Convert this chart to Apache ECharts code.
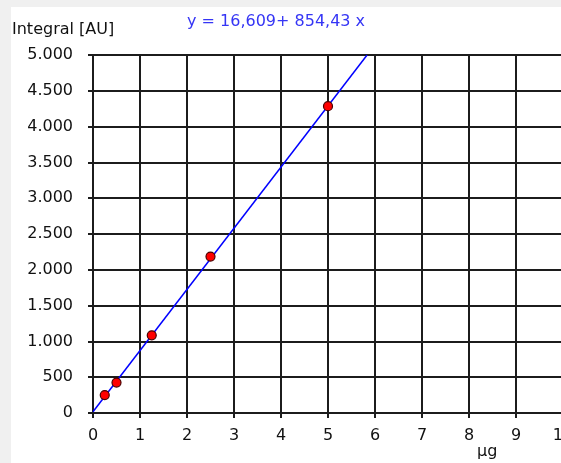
<!DOCTYPE html>
<html>
<head>
<meta charset="utf-8">
<script src="https://cdn.jsdelivr.net/npm/echarts@6/dist/echarts.min.js"></script>
<style>
  html, body { margin: 0; padding: 0; background: #f0f0f0; }
  #panel { position: absolute; left: 11px; top: 7px; width: 550px; height: 456px; background: #ffffff; }
  #chart { position: absolute; left: 0; top: 0; width: 561px; height: 463px; }
</style>
</head>
<body>
<div id="panel"></div>
<div id="chart"></div>
<script>
// Data
const massUg = [0.25, 0.5, 1.25, 2.5, 5];
const integralAU = [250, 425, 1085, 2185, 4285];
const fitLineX = [0, 5.832];
const fitLineY = [16.609, 5000];
const xTicks = [0, 1, 2, 3, 4, 5, 6, 7, 8, 9, 10];
const yTicks = [0, 500, 1000, 1500, 2000, 2500, 3000, 3500, 4000, 4500, 5000];
const equationText = 'y = 16,609+ 854,43 x';
const yTitle = 'Integral [AU]';
const xTitle = 'µg';

function fmtThousands(v) {
  const s = String(Math.round(v));
  return s.replace(/\B(?=(\d{3})+(?!\d))/g, '.');
}

const points = massUg.map((x, i) => [x, integralAU[i]]);
const fitLine = fitLineX.map((x, i) => [x, fitLineY[i]]);

const FONT = 'DejaVu Sans';
const LINE = { color: '#1c1c1c', width: 2 };
const chart = echarts.init(document.getElementById('chart'), null, { renderer: 'canvas' });
chart.setOption({
  backgroundColor: 'transparent',
  animation: false,
  grid: { left: 93, top: 55, width: 470, height: 358, containLabel: false, outerBoundsMode: 'none' },
  xAxis: {
    type: 'value', min: xTicks[0], max: xTicks[xTicks.length - 1], interval: 1,
    axisLine: { show: true, onZero: false, lineStyle: LINE },
    axisTick: { show: true, length: 5, lineStyle: LINE },
    axisLabel: { color: '#111', fontFamily: FONT, fontSize: 16, margin: 15, hideOverlap: false },
    splitLine: { show: true, lineStyle: LINE }
  },
  yAxis: {
    type: 'value', min: yTicks[0], max: yTicks[yTicks.length - 1], interval: 500,
    axisLine: { show: true, onZero: false, lineStyle: LINE },
    axisTick: { show: true, length: 5, lineStyle: LINE },
    axisLabel: { color: '#111', fontFamily: FONT, fontSize: 16, margin: 20, formatter: fmtThousands },
    splitLine: { show: true, lineStyle: LINE }
  },
  graphic: [
    { type: 'text', left: 12, top: 22, style: { text: yTitle, fill: '#111', font: '16px "DejaVu Sans"' } },
    { type: 'text', left: 187, top: 14, style: { text: equationText, fill: '#3535f5', font: '16px "DejaVu Sans"' } },
    { type: 'text', left: 477, top: 444, style: { text: xTitle, fill: '#111', font: '16px "DejaVu Sans"' } }
  ],
  series: [
    {
      type: 'line', data: fitLine, showSymbol: false, symbol: 'none',
      lineStyle: { color: '#0000ff', width: 1.5 }, z: 3, silent: true
    },
    {
      type: 'scatter', data: points, symbol: 'circle', symbolSize: 9,
      itemStyle: { color: '#ff0000', borderColor: '#4a0000', borderWidth: 1.2, opacity: 1 }, z: 4
    }
  ]
});
</script>
</body>
</html>
